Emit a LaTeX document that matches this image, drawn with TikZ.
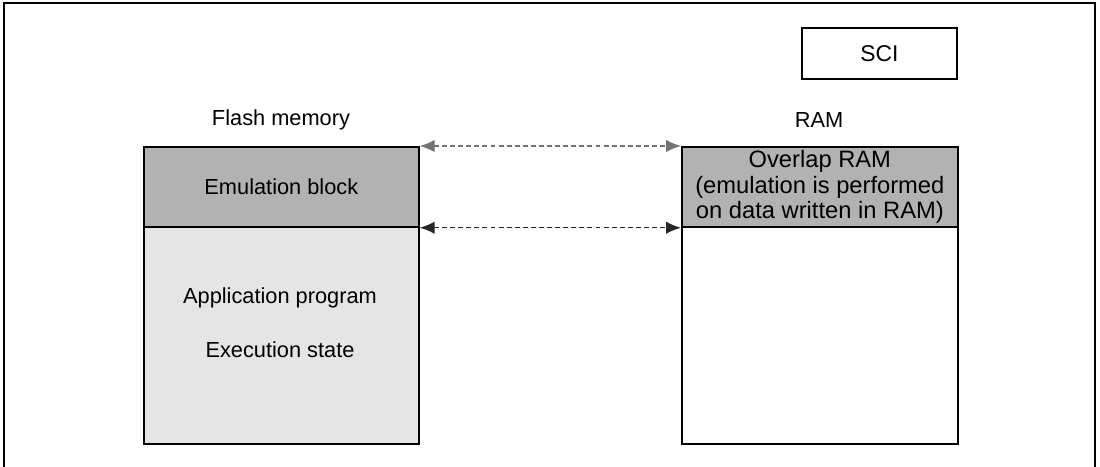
\documentclass[tikz,border=0pt]{standalone}
\usepackage{fontspec}
\setmainfont{Liberation Sans}
\usetikzlibrary{arrows.meta}

\tikzset{
  memblock/.style={draw,line width=1pt,inner sep=0pt,anchor=north west,
    minimum width=5.5cm,align=center},
  xfer/.style={{Latex[length=8.5pt,width=7pt]}-{Latex[length=8.5pt,width=7pt]},
    dash pattern=on 2.8pt off 1.8pt,line width=0.8pt},
}

\begin{document}
\begin{tikzpicture}[x=0.02cm,y=-0.02cm,font=\fontsize{12.4}{14.5}\selectfont]
\useasboundingbox (0,0) rectangle (1100,467);
% frame
\draw[line width=0.8pt] (4,467) -- (4,3) -- (1095,3) -- (1095,467);
\node[draw,line width=0.7pt,minimum width=3.1cm,minimum height=1.02cm,inner sep=0pt,
  font=\fontsize{13}{15}\selectfont] (sci) at (879.5,53.5) {SCI};
% flash memory side
\node (flashlbl) at (281,120) {Flash memory};
\node[memblock,fill=black!30,minimum height=1.6cm] (emu) at (143,146) {Emulation block};
\node[memblock,fill=black!10,minimum height=4.34cm] (app) at (143,226) {};
\node (apptxt) at (280,298) {Application program};
\node (exetxt) at (280,350) {Execution state};
% RAM side
\node (ramlbl) at (819,120) {RAM};
\node[memblock,fill=black!30,minimum width=5.52cm,minimum height=1.6cm,
  font=\fontsize{13.5}{14.5}\selectfont] (ovl) at (681,146) {Overlap RAM\\(emulation is performed\\on data written in RAM)};
\node[memblock,fill=white,minimum width=5.52cm,minimum height=4.34cm] (ramfree) at (681,226) {};
% transfers
\draw[xfer,draw=black!55] (emu.north east) -- (ovl.north west);
\draw[xfer,draw=black!85] (emu.south east) -- (ovl.south west);
\end{tikzpicture}
\end{document}
